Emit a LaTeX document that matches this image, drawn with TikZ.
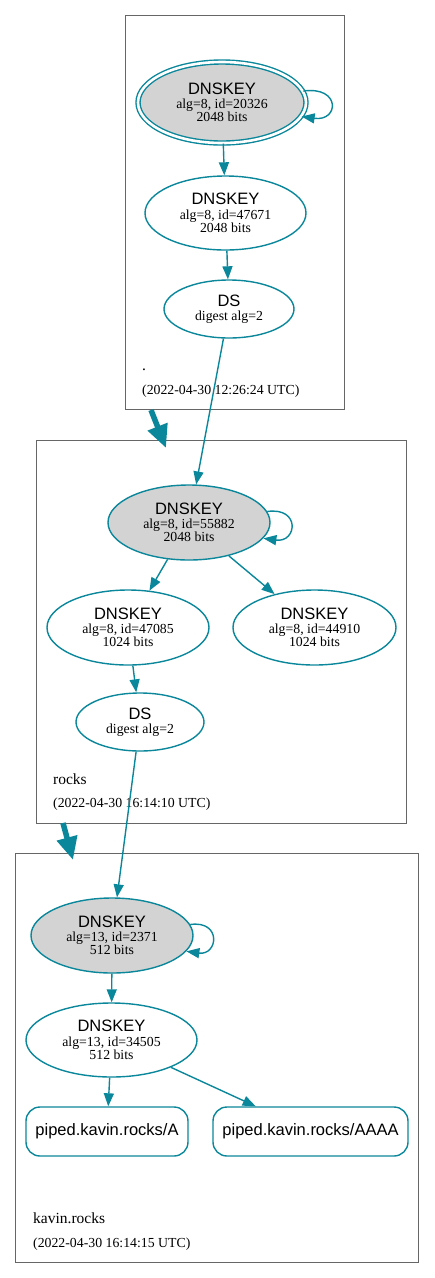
\documentclass[tikz,border=0pt]{standalone}
\usepackage{fontspec}
\setmainfont{Liberation Serif}
\setsansfont{Liberation Sans}
\usetikzlibrary{shapes.geometric,arrows.meta}

\definecolor{dnsteal}{HTML}{0A879A}
\definecolor{zoneline}{HTML}{666666}
\definecolor{kskfill}{HTML}{D3D3D3}

\newcommand{\keylabel}[2]{{\sffamily\fontsize{16.5}{16}\selectfont DNSKEY}\\[1.5pt]#1\\#2}
\newcommand{\dslabel}[1]{{\sffamily\fontsize{16.5}{16}\selectfont DS}\\[0.5pt]#1}

\begin{document}
\begin{tikzpicture}[x=1pt,y=1pt]
        \useasboundingbox (0,0) rectangle (435,-1278);
        % zones
        \begin{scope}[every node/.style={draw=zoneline, line width=0.9pt, inner sep=0, rectangle}]
                \node (Zroot) at (234.5,-212) [minimum width=219, minimum height=394] {};
                \node (Zrocks) at (221,-631.5) [minimum width=370, minimum height=383] {};
                \node (Zkavin) at (216.5,-1057.5) [minimum width=403, minimum height=409] {};
        \end{scope}
        \begin{scope}[every node/.style={anchor=base west, inner sep=0, font=\fontsize{13.8}{14}\selectfont}]
                \node (Nroot) at (142,-370) {\fontsize{15.5}{16}\selectfont .};
                \node (Troot) at (142,-394) {(2022-04-30 12:26:24 UTC)};
                \node (Nrocks) at (53,-784) {\fontsize{15.5}{16}\selectfont rocks};
                \node (Trocks) at (53,-807) {(2022-04-30 16:14:10 UTC)};
                \node (Nkavin) at (33,-1223) {\fontsize{15.5}{16}\selectfont kavin.rocks};
                \node (Tkavin) at (33,-1247) {(2022-04-30 16:14:15 UTC)};
        \end{scope}
        % keys and ds records
        \begin{scope}[every node/.style={ellipse, draw=dnsteal, line width=1.4pt, inner sep=0, align=center, font=\fontsize{13.8}{13}\selectfont}]
                \node (K1) at (222,-102.5) [minimum width=168, minimum height=81, fill=kskfill, double=white, double distance=2.6pt] {\keylabel{alg=8, id=20326}{2048 bits}};
                \node (K2) at (225.5,-213) [minimum width=161, minimum height=74] {\keylabel{alg=8, id=47671}{2048 bits}};
                \node (D1) at (229,-309) [minimum width=130, minimum height=58] {\dslabel{digest alg=2}};

                \node (K3) at (189,-522.5) [minimum width=162, minimum height=75, fill=kskfill] {\keylabel{alg=8, id=55882}{2048 bits}};
                \node (K4) at (128,-627.5) [minimum width=162, minimum height=75] {\keylabel{alg=8, id=47085}{1024 bits}};
                \node (K5) at (314.5,-627.5) [minimum width=163, minimum height=75] {\keylabel{alg=8, id=44910}{1024 bits}};
                \node (D2) at (140,-722) [minimum width=128, minimum height=58] {\dslabel{digest alg=2}};

                \node (K6) at (112,-935.5) [minimum width=162, minimum height=75, fill=kskfill] {\keylabel{alg=13, id=2371}{512 bits}};
                \node (K7) at (111.5,-1040) [minimum width=171, minimum height=74] {\keylabel{alg=13, id=34505}{512 bits}};
        \end{scope}
        \begin{scope}[every node/.style={rectangle, rounded corners=14pt, draw=dnsteal, line width=1.4pt, inner sep=0, minimum height=49, font=\sffamily\fontsize{16.5}{16}\selectfont}]
                \node (RA) at (107,-1131.5) [minimum width=162] {piped.kavin.rocks/A};
                \node (RAAAA) at (310.5,-1131.5) [minimum width=195] {piped.kavin.rocks/AAAA};
        \end{scope}
        % zone delegation arrows
        \coordinate (z1) at (151,-410);
        \coordinate (z2) at (166,-448);
        \coordinate (z3) at (63,-823);
        \coordinate (z4) at (73,-860);
        \begin{scope}[every edge/.style={draw=dnsteal, line width=5.5pt, -{Triangle[length=23pt,width=20pt]}}]
                \path (z1) edge (z2);
                \path (z3) edge (z4);
        \end{scope}
        % signing edges
        \begin{scope}[every edge/.style={draw=dnsteal, line width=1.4pt, -{Triangle[length=13pt,width=10pt]}}]
                \path (K1.8) edge[out=8, in=-8, distance=38] (K1.-10);
                \path (K1) edge (K2);
                \path (K2) edge (D1);
                \path (D1) edge (K3);

                \path (K3.8) edge[out=8, in=-8, distance=34] (K3.-12);
                \path (K3) edge (K4);
                \path (K3) edge (K5);
                \path (K4) edge (D2);
                \path (D2) edge (K6);

                \path (K6.8) edge[out=8, in=-8, distance=32] (K6.-12);
                \path (K6) edge (K7);
                \path (K7) edge (RA);
                \path (K7) edge (RAAAA);
        \end{scope}
\end{tikzpicture}
\end{document}
